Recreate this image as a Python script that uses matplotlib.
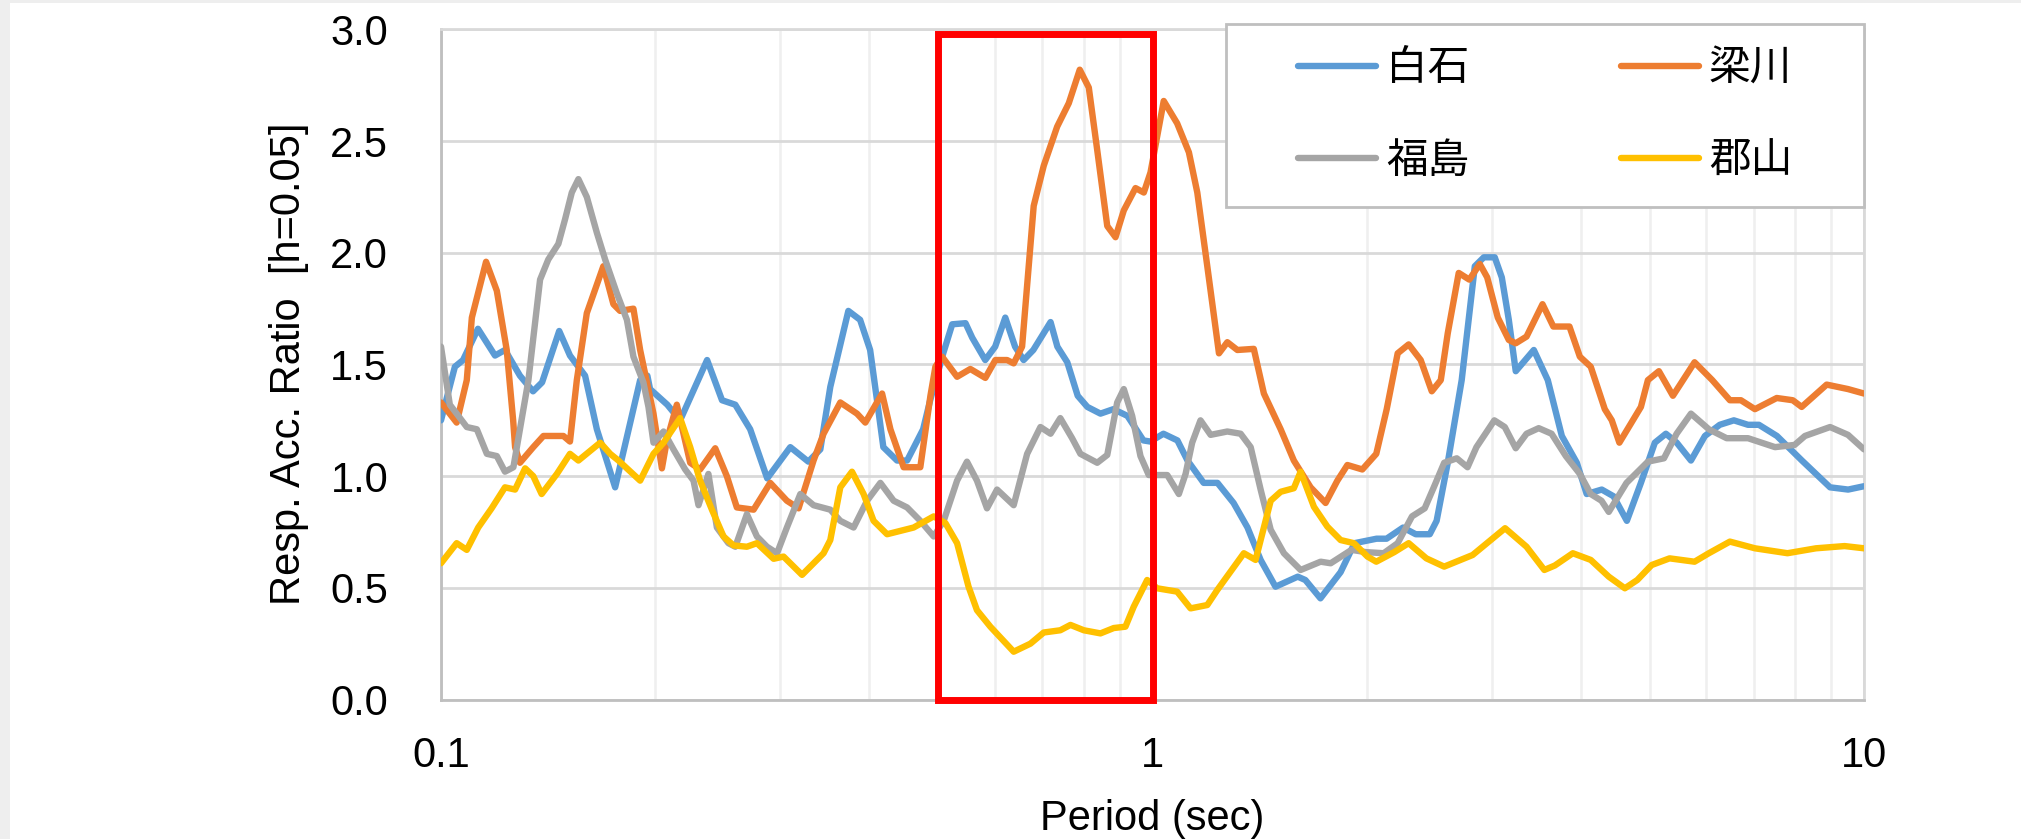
# -*- coding: utf-8 -*-
import matplotlib
matplotlib.use('Agg')
import matplotlib.pyplot as plt
from matplotlib.patches import Rectangle
from matplotlib.lines import Line2D

# Arial-like font first, CJK font for the station names
plt.rcParams['font.family'] = ['Liberation Sans', 'Noto Sans CJK JP', 'DejaVu Sans']

# 白石 (period in sec, response acceleration ratio)
t_shiroishi = [0.100, 0.1046, 0.1074, 0.1127, 0.1191, 0.1230, 0.1291, 0.1347, 0.1387, 0.1466,
               0.1518, 0.1594, 0.1656, 0.1757, 0.1905, 0.195, 0.1967, 0.208, 0.2168, 0.2366,
               0.2483, 0.2592, 0.272, 0.2874, 0.3097, 0.3283, 0.3413, 0.3525, 0.3737, 0.3882,
               0.401, 0.410, 0.4185, 0.4375, 0.452, 0.476, 0.487, 0.508, 0.523, 0.546,
               0.558, 0.582, 0.601, 0.621, 0.641, 0.659, 0.680, 0.719, 0.735, 0.759,
               0.785, 0.810, 0.845, 0.881, 0.922, 0.971, 0.993, 1.036, 1.084, 1.120,
               1.180, 1.234, 1.300, 1.360, 1.419, 1.489, 1.600, 1.640, 1.722, 1.838,
               1.923, 2.065, 2.133, 2.250, 2.344, 2.453, 2.508, 2.600, 2.720, 2.838,
               2.922, 3.027, 3.097, 3.168, 3.240, 3.435, 3.594, 3.761, 3.948, 4.076,
               4.280, 4.446, 4.642, 4.858, 5.082, 5.267, 5.455, 5.712, 5.976, 6.270,
               6.563, 6.870, 7.117, 7.544, 8.180, 8.960, 9.500, 10.0]
v_shiroishi = [1.25, 1.49, 1.52, 1.66, 1.54, 1.565, 1.45, 1.38, 1.42, 1.65,
               1.54, 1.45, 1.21, 0.95, 1.43, 1.45, 1.39, 1.32, 1.25, 1.52,
               1.34, 1.32, 1.21, 0.99, 1.13, 1.065, 1.12, 1.40, 1.74, 1.70,
               1.565, 1.34, 1.13, 1.07, 1.07, 1.21, 1.34, 1.55, 1.68, 1.685,
               1.62, 1.52, 1.58, 1.71, 1.58, 1.52, 1.565, 1.69, 1.58, 1.51,
               1.36, 1.31, 1.28, 1.30, 1.27, 1.16, 1.155, 1.19, 1.16, 1.07,
               0.97, 0.97, 0.88, 0.77, 0.625, 0.505, 0.55, 0.535, 0.453, 0.57,
               0.70, 0.72, 0.72, 0.77, 0.74, 0.74, 0.80, 1.06, 1.43, 1.94,
               1.98, 1.98, 1.89, 1.70, 1.47, 1.565, 1.43, 1.18, 1.06, 0.92,
               0.94, 0.91, 0.80, 0.97, 1.15, 1.19, 1.15, 1.07, 1.18, 1.23,
               1.25, 1.23, 1.23, 1.18, 1.07, 0.95, 0.94, 0.955]

# 梁川
t_yanagawa = [0.100, 0.1052, 0.1087, 0.1105, 0.1157, 0.1198, 0.1237, 0.1263, 0.1271, 0.1291,
              0.1348, 0.1393, 0.1486, 0.1518, 0.1552, 0.1603, 0.1691, 0.1747, 0.1785, 0.1864,
              0.1905, 0.1989, 0.2044, 0.2077, 0.2145, 0.224, 0.2313, 0.2429, 0.2522, 0.2605,
              0.275, 0.2902, 0.3063, 0.3181, 0.3339, 0.3449, 0.3641, 0.3843, 0.3948, 0.4168,
              0.4282, 0.4469, 0.4717, 0.4874, 0.4953, 0.5061, 0.5313, 0.5546, 0.5822, 0.6014,
              0.6246, 0.6381, 0.6557, 0.6699, 0.6808, 0.7033, 0.7345, 0.7627, 0.7902, 0.8137,
              0.8362, 0.8638, 0.8872, 0.9113, 0.9465, 0.9723, 0.9936, 1.037, 1.083, 1.125,
              1.156, 1.194, 1.240, 1.274, 1.316, 1.388, 1.434, 1.514, 1.580, 1.668,
              1.751, 1.819, 1.879, 1.972, 2.063, 2.134, 2.211, 2.291, 2.382, 2.469,
              2.542, 2.600, 2.694, 2.788, 2.884, 2.954, 3.057, 3.168, 3.240, 3.355,
              3.533, 3.659, 3.855, 3.987, 4.130, 4.322, 4.421, 4.531, 4.858, 4.969,
              5.149, 5.388, 5.779, 6.120, 6.479, 6.714, 7.026, 7.540, 7.941, 8.173,
              8.862, 9.495, 10.0]
v_yanagawa = [1.33, 1.24, 1.43, 1.71, 1.96, 1.83, 1.565, 1.25, 1.13, 1.06,
              1.13, 1.18, 1.18, 1.155, 1.43, 1.73, 1.94, 1.77, 1.74, 1.75,
              1.565, 1.28, 1.035, 1.16, 1.32, 1.06, 1.03, 1.125, 1.00, 0.86,
              0.85, 0.97, 0.89, 0.856, 1.07, 1.19, 1.33, 1.28, 1.24, 1.37,
              1.21, 1.04, 1.04, 1.36, 1.49, 1.535, 1.445, 1.48, 1.44, 1.52,
              1.52, 1.505, 1.58, 1.94, 2.21, 2.39, 2.565, 2.67, 2.82, 2.74,
              2.46, 2.12, 2.07, 2.19, 2.29, 2.27, 2.36, 2.68, 2.58, 2.45,
              2.27, 1.94, 1.55, 1.60, 1.565, 1.57, 1.37, 1.21, 1.07, 0.95,
              0.88, 0.98, 1.05, 1.03, 1.10, 1.30, 1.55, 1.59, 1.52, 1.38,
              1.43, 1.64, 1.91, 1.88, 1.95, 1.89, 1.71, 1.61, 1.595, 1.625,
              1.77, 1.67, 1.67, 1.535, 1.49, 1.30, 1.25, 1.15, 1.31, 1.43,
              1.47, 1.36, 1.51, 1.43, 1.34, 1.34, 1.30, 1.35, 1.34, 1.31,
              1.41, 1.39, 1.37]

# 福島
t_fukushima = [0.100, 0.1029, 0.1052, 0.1087, 0.1123, 0.1160, 0.1198, 0.1230, 0.1264, 0.1327,
               0.1378, 0.1415, 0.1462, 0.1494, 0.1527, 0.1560, 0.1603, 0.1656, 0.1701, 0.1766,
               0.1825, 0.1864, 0.1925, 0.1957, 0.1989, 0.2055, 0.2122, 0.2204, 0.2264, 0.2301,
               0.2376, 0.2442, 0.2535, 0.2592, 0.2691, 0.278, 0.2872, 0.2967, 0.3063, 0.3199,
               0.3339, 0.3525, 0.3641, 0.3801, 0.397, 0.4145, 0.4327, 0.4519, 0.4717, 0.4926,
               0.5088, 0.5313, 0.5486, 0.5666, 0.5853, 0.6047, 0.6381, 0.6665, 0.6958, 0.719,
               0.742, 0.7709, 0.7919, 0.8362, 0.8638, 0.892, 0.9113, 0.9363, 0.9618, 0.988,
               1.049, 1.089, 1.113, 1.137, 1.168, 1.207, 1.274, 1.330, 1.374, 1.419,
               1.466, 1.530, 1.615, 1.723, 1.780, 1.904, 1.994, 2.113, 2.211, 2.316,
               2.413, 2.485, 2.570, 2.677, 2.772, 2.853, 3.023, 3.127, 3.240, 3.355,
               3.490, 3.638, 3.810, 3.987, 4.130, 4.276, 4.378, 4.637, 4.969, 5.234,
               5.453, 5.712, 6.053, 6.411, 6.870, 7.498, 7.989, 8.260, 8.960, 9.495,
               10.0]
v_fukushima = [1.58, 1.32, 1.28, 1.22, 1.21, 1.10, 1.09, 1.02, 1.04, 1.43,
               1.88, 1.97, 2.04, 2.15, 2.27, 2.33, 2.25, 2.09, 1.97, 1.82,
               1.70, 1.535, 1.42, 1.31, 1.15, 1.20, 1.12, 1.03, 0.98, 0.87,
               1.01, 0.77, 0.70, 0.684, 0.83, 0.73, 0.684, 0.655, 0.77, 0.92,
               0.87, 0.85, 0.80, 0.77, 0.89, 0.97, 0.89, 0.86, 0.80, 0.73,
               0.80, 0.98, 1.065, 0.98, 0.856, 0.94, 0.87, 1.10, 1.22, 1.19,
               1.26, 1.17, 1.10, 1.06, 1.095, 1.33, 1.39, 1.27, 1.09, 1.005,
               1.005, 0.92, 1.01, 1.15, 1.25, 1.185, 1.20, 1.19, 1.13, 0.94,
               0.76, 0.655, 0.58, 0.617, 0.61, 0.67, 0.66, 0.655, 0.70, 0.82,
               0.856, 0.95, 1.06, 1.08, 1.04, 1.13, 1.25, 1.22, 1.125, 1.19,
               1.215, 1.19, 1.09, 1.01, 0.92, 0.89, 0.84, 0.97, 1.065, 1.08,
               1.19, 1.28, 1.21, 1.17, 1.17, 1.13, 1.14, 1.18, 1.22, 1.185,
               1.12]

# 郡山
t_koriyama = [0.100, 0.1052, 0.1087, 0.1128, 0.1178, 0.1230, 0.1271, 0.1313, 0.1348, 0.1385,
              0.1455, 0.1518, 0.1560, 0.1674, 0.1729, 0.1776, 0.1905, 0.1989, 0.2055, 0.2168,
              0.2240, 0.2313, 0.2403, 0.2495, 0.2577, 0.2691, 0.2780, 0.2934, 0.3030, 0.3217,
              0.3449, 0.3525, 0.3641, 0.3781, 0.3926, 0.4055, 0.4236, 0.4616, 0.4926, 0.5116,
              0.5313, 0.5514, 0.5666, 0.5917, 0.6381, 0.6736, 0.7033, 0.742, 0.7668, 0.8007,
              0.845, 0.8822, 0.9162, 0.9412, 0.9829, 1.015, 1.083, 1.131, 1.194, 1.233,
              1.344, 1.396, 1.466, 1.514, 1.580, 1.615, 1.686, 1.761, 1.838, 1.919,
              2.005, 2.063, 2.187, 2.291, 2.426, 2.570, 2.818, 3.130, 3.355, 3.554,
              3.677, 3.897, 4.130, 4.378, 4.612, 4.801, 5.029, 5.330, 5.779, 6.053,
              6.479, 7.026, 7.806, 8.560, 9.391, 10.0]
v_koriyama = [0.61, 0.70, 0.67, 0.77, 0.856, 0.95, 0.94, 1.035, 1.00, 0.92,
              1.01, 1.10, 1.07, 1.15, 1.10, 1.07, 0.98, 1.10, 1.15, 1.26,
              1.13, 0.98, 0.85, 0.73, 0.69, 0.684, 0.70, 0.63, 0.64, 0.558,
              0.655, 0.714, 0.95, 1.02, 0.92, 0.80, 0.74, 0.77, 0.82, 0.79,
              0.70, 0.505, 0.40, 0.326, 0.214, 0.25, 0.30, 0.31, 0.334, 0.31,
              0.296, 0.32, 0.326, 0.416, 0.535, 0.498, 0.483, 0.408, 0.423, 0.49,
              0.655, 0.625, 0.89, 0.93, 0.946, 1.02, 0.863, 0.774, 0.714, 0.70,
              0.64, 0.617, 0.66, 0.70, 0.632, 0.595, 0.647, 0.767, 0.684, 0.58,
              0.60, 0.655, 0.625, 0.55, 0.498, 0.535, 0.602, 0.632, 0.617, 0.655,
              0.707, 0.677, 0.655, 0.677, 0.687, 0.677]

station_names = ['白石', '梁川', '福島', '郡山']
station_colors = ['#5B9BD5', '#ED7D31', '#A5A5A5', '#FFC000']

x_ticks = [0.1, 1, 10]
x_tick_labels = ['0.1', '1', '10']
x_minor = [0.2, 0.3, 0.4, 0.5, 0.6, 0.7, 0.8, 0.9, 2, 3, 4, 5, 6, 7, 8, 9]
y_ticks = [0.0, 0.5, 1.0, 1.5, 2.0, 2.5, 3.0]

# highlighted period band
band_start = 0.5
band_end = 1.0
band_top = 2.98

W, H = 2021, 839
fig = plt.figure(figsize=(W / 100, H / 100), dpi=100)

# thin gray frame of the screenshot
fig.patches.append(Rectangle((0, 1 - 3 / H), 1, 3 / H, transform=fig.transFigure,
                             facecolor='#eeeeee', edgecolor='none'))
fig.patches.append(Rectangle((0, 0), 10 / W, 1, transform=fig.transFigure,
                             facecolor='#eeeeee', edgecolor='none'))

ax = fig.add_axes([441 / W, 1 - 699.5 / H, 1423 / W, 670 / H])

series = [(t_shiroishi, v_shiroishi), (t_yanagawa, v_yanagawa),
          (t_fukushima, v_fukushima), (t_koriyama, v_koriyama)]
for (t, v), name, col in zip(series, station_names, station_colors):
    ax.plot(t, v, color=col, lw=4.6, label=name, zorder=3,
            solid_joinstyle='round', solid_capstyle='round')

ax.set_xscale('log')
ax.set_xlim(0.1, 10)
ax.set_ylim(0, 3.0)

ax.set_xticks(x_ticks)
ax.set_xticklabels(x_tick_labels)
ax.set_xticks(x_minor, minor=True)
ax.set_xticklabels([], minor=True)
ax.set_yticks(y_ticks)
ax.set_yticklabels(['%.1f' % y for y in y_ticks])
ax.tick_params(which='both', length=0)
ax.tick_params(axis='y', labelsize=30, pad=38)
ax.tick_params(axis='x', labelsize=30, pad=26)

# grid lines like Excel
ax.grid(True, which='major', axis='y', color='#d9d9d9', lw=2)
ax.grid(True, which='major', axis='x', color='#d9d9d9', lw=2)
ax.grid(True, which='minor', axis='x', color='#efefef', lw=1.8)
ax.set_axisbelow(True)
for side in ['left', 'bottom']:
    ax.spines[side].set_color('#bfbfbf')
    ax.spines[side].set_linewidth(2)
for side in ['top', 'right']:
    ax.spines[side].set_color('#d9d9d9')
    ax.spines[side].set_linewidth(2)

# red box around 0.5 - 1.0 sec
ax.add_patch(Rectangle((band_start, 0), band_end - band_start, band_top, fill=False,
                       edgecolor='#ff0000', lw=5, zorder=4, clip_on=False))

# axis titles
fig.text(1152 / W, 1 - 830 / H, 'Period (sec)', ha='center', va='baseline', fontsize=30)
fig.text(289 / W, 1 - 364 / H, 'Resp. Acc. Ratio  [h=0.05]', rotation=90,
         ha='center', va='center', fontsize=30)

# legend box drawn separately (inside the axes so it sits under the legend entries)
box_x0, box_x1, box_y0, box_y1 = 1226, 1864, 24, 207
ax.add_patch(Rectangle((box_x0 / W, 1 - box_y1 / H), (box_x1 - box_x0) / W,
                       (box_y1 - box_y0) / H, transform=fig.transFigure, clip_on=False,
                       facecolor='white', edgecolor='#bfbfbf', lw=2, zorder=5))
leg_handles = [Line2D([], [], color=c, lw=4.6, solid_capstyle='round') for c in station_colors]
order = [0, 2, 1, 3]
leg = ax.legend([leg_handles[i] for i in order], [station_names[i] for i in order],
                ncol=2, frameon=False, fontsize=30, loc='center',
                bbox_to_anchor=((box_x0 + box_x1) / 2 / W, 1 - (box_y0 + box_y1) / 2 / H),
                bbox_transform=fig.transFigure, borderpad=0, handlelength=1.87,
                handletextpad=0.24, columnspacing=3.65, labelspacing=1.25)
leg.set_zorder(6)

fig.savefig('out.png', dpi=100)
